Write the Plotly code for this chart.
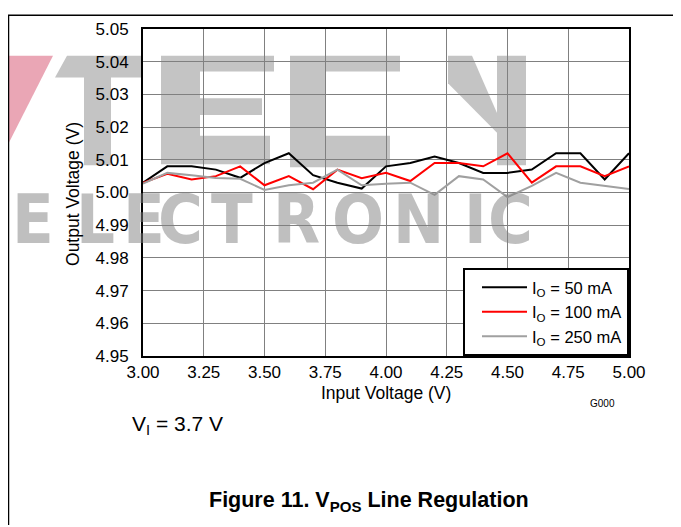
import plotly.graph_objects as go

# ---------------- data ----------------
input_v = [3.0, 3.1, 3.2, 3.3, 3.4, 3.5, 3.6, 3.7, 3.8, 3.9, 4.0,
           4.1, 4.2, 4.3, 4.4, 4.5, 4.6, 4.7, 4.8, 4.9, 5.0]
out_50mA = [5.003, 5.008, 5.008, 5.007, 5.0045, 5.009, 5.012, 5.0053, 5.003, 5.0012, 5.008,
            5.009, 5.011, 5.009, 5.006, 5.006, 5.007, 5.012, 5.012, 5.004, 5.012]
out_100mA = [5.003, 5.0057, 5.004, 5.005, 5.008, 5.0022, 5.005, 5.001, 5.007, 5.0044, 5.006,
             5.0035, 5.009, 5.009, 5.008, 5.012, 5.003, 5.008, 5.008, 5.005, 5.008]
out_250mA = [5.0027, 5.006, 5.0053, 5.0044, 5.0042, 5.0008, 5.0022, 5.003, 5.007, 5.0022, 5.0027,
             5.003, 4.9993, 5.005, 5.004, 4.9986, 5.002, 5.006, 5.003, 5.002, 5.0011]
series_names = ["I<sub>O</sub> = 50 mA", "I<sub>O</sub> = 100 mA", "I<sub>O</sub> = 250 mA"]
series_colors = ["#000000", "#ff0000", "#a0a0a0"]
x_ticks = [3.00, 3.25, 3.50, 3.75, 4.00, 4.25, 4.50, 4.75, 5.00]
y_ticks = [4.95, 4.96, 4.97, 4.98, 4.99, 5.00, 5.01, 5.02, 5.03, 5.04, 5.05]
watermark_letters = ["E", "L", "E", "C", "T", "R", "O", "N", "I", "C"]

FONT = "Liberation Sans, Arial, sans-serif"
OFF = 8                      # page body margin of the html page
W, H = 681 - OFF, 527 - OFF  # figure size
# plot area in page pixels
L, R, T, B = 143, 629, 25, 356


def px(x):
    return (x - L) / (R - L)


def py(y):
    return (B - y) / (B - T)


def poly(points):
    return "M " + " L ".join(f"{px(a):.5f},{py(b):.5f}" for a, b in points) + " Z"


fig = go.Figure()
for name, col, ys in zip(series_names, series_colors, [out_50mA, out_100mA, out_250mA]):
    fig.add_trace(go.Scatter(x=input_v, y=ys, mode="lines", name=name,
                             line=dict(color=col, width=2)))

shapes = []
# watermark blocks ("TECH")
pink = "#eaa6b5"
gray = "#c4c4c4"
blocks = [
    (pink, [(OFF, 52), (53, 52), (OFF, 142)]),
    (gray, [(67, 52), (141, 52), (141, 74), (111, 74), (111, 163), (84, 163), (84, 74), (55, 74)]),
    (gray, [(161, 52), (274, 52), (274, 68), (200, 68), (200, 95), (262, 95), (262, 112),
            (200, 112), (200, 133), (270, 133), (270, 162), (161, 162)]),
    (gray, [(290, 52), (400, 52), (400, 68), (326, 68), (326, 133), (390, 133), (390, 165), (290, 165)]),
    (gray, [(448, 52), (472, 52), (497, 110), (497, 130), (448, 80)]),
    (gray, [(497, 52), (526, 52), (526, 163), (497, 163)]),
]
for col, pts in blocks:
    shapes.append(dict(type="path", path=poly(pts), xref="paper", yref="paper",
                       fillcolor=col, line=dict(width=0), layer="below"))
# page frame lines
shapes.append(dict(type="line", xref="paper", yref="paper", x0=px(OFF), x1=px(681), y0=py(11), y1=py(11),
                   line=dict(color="black", width=1.5)))
shapes.append(dict(type="line", xref="paper", yref="paper", x0=px(OFF + 0.5), x1=px(OFF + 0.5), y0=py(11),
                   y1=py(527), line=dict(color="black", width=1.5)))

annotations = []
letter_x = [25, 95, 144, 180, 232, 296, 358, 418, 475, 510]
for i, (ch, lx) in enumerate(zip(watermark_letters, letter_x)):
    annotations.append(dict(text=f"<b>{ch}</b>", x=px(lx if i else 11), y=py(218), xref="paper",
                            yref="paper", showarrow=False, xanchor="center" if i else "left",
                            yanchor="middle", borderpad=0,
                            font=dict(family="Liberation Sans Narrow, DejaVu Sans Condensed, Arial", size=68,
                                      color="rgba(128,128,128,0.5)")))
annotations += [
    dict(text="Input Voltage (V)", x=px(386), y=py(393), xref="paper", yref="paper", showarrow=False,
         xanchor="center", yanchor="middle", font=dict(family=FONT, size=17.5, color="black")),
    dict(text="Output Voltage (V)", x=px(73), y=py(192), xref="paper", yref="paper", showarrow=False,
         textangle=-90, xanchor="center", yanchor="middle", font=dict(family=FONT, size=17.5, color="black")),
    dict(text="G000", x=px(602), y=py(404), xref="paper", yref="paper", showarrow=False,
         xanchor="center", yanchor="middle", font=dict(family=FONT, size=10, color="black")),
    dict(text="V<sub>I</sub> = 3.7 V", x=px(130), y=py(426), xref="paper", yref="paper", showarrow=False,
         xanchor="left", yanchor="middle", font=dict(family=FONT, size=21, color="black")),
    dict(text="<b>Figure 11. V<sub>POS</sub> Line Regulation</b>", x=px(369), y=py(503), xref="paper",
         yref="paper", showarrow=False, xanchor="center", yanchor="middle",
         font=dict(family=FONT, size=21.5, color="black")),
]

fig.update_layout(
    width=W, height=H, autosize=False,
    margin=dict(l=L - OFF, r=681 - R, t=T - OFF, b=527 - B, pad=0),
    paper_bgcolor="white", plot_bgcolor="rgba(0,0,0,0)",
    font=dict(family=FONT, size=17, color="black"),
    shapes=shapes, annotations=annotations,
    legend=dict(x=1, y=0, xanchor="right", yanchor="bottom", bgcolor="white",
                bordercolor="black", borderwidth=2, font=dict(family=FONT, size=16.5),
                tracegroupgap=0, itemwidth=45, indentation=12),
    showlegend=True,
)
fig.update_xaxes(range=[3, 5], tickvals=x_ticks, ticktext=[f"{v:.2f}" for v in x_ticks],
                 showgrid=True, gridcolor="#808080", gridwidth=1, zeroline=False,
                 showline=True, linecolor="black", linewidth=2, mirror=True,
                 ticks="", tickfont=dict(size=17))
fig.update_yaxes(range=[4.95, 5.05], tickvals=y_ticks, ticktext=[f"{v:.2f}" for v in y_ticks],
                 showgrid=True, gridcolor="#808080", gridwidth=1, zeroline=False,
                 showline=True, linecolor="black", linewidth=2, mirror=True,
                 ticks="outside", ticklen=9, tickcolor="rgba(0,0,0,0)",
                 tickfont=dict(size=17))

fig.write_html("out.html")
